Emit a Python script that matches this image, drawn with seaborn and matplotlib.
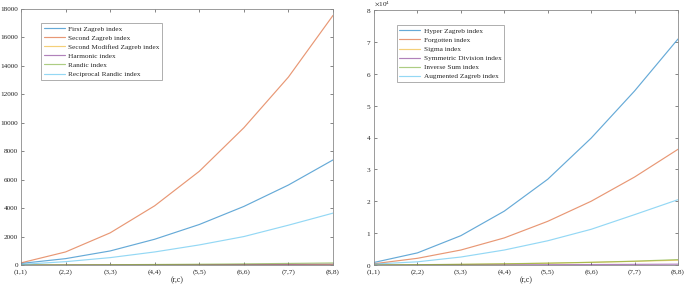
import numpy as np
import pandas as pd
import matplotlib
matplotlib.use("Agg")
import matplotlib.pyplot as plt
from matplotlib.ticker import ScalarFormatter
import seaborn as sns

categories = ["(1,1)", "(2,2)", "(3,3)", "(4,4)", "(5,5)", "(6,6)", "(7,7)", "(8,8)"]

left_names = ["First Zagreb index", "Second Zagreb index", "Second Modified Zagreb index",
              "Harmonic index", "Randic index", "Reciprocal Randic index"]
first_zagreb = [110, 447, 988, 1812, 2847, 4118, 5624, 7388]
second_zagreb = [150, 918, 2259, 4165, 6588, 9650, 13214, 17548]
second_mod_zagreb = [0.5, 2, 4.5, 8, 12.5, 18, 24.5, 32]
harmonic = [1, 3.5, 8, 14, 22, 32, 43, 56]
randic = [3, 10, 21, 36, 56, 80, 110, 145]
reciprocal_randic = [40, 235, 518, 918, 1412, 2000, 2800, 3647]

right_names = ["Hyper Zagreb index", "Forgotten index", "Sigma index",
               "Symmetric Division index", "Inverse Sum index", "Augmented Zagreb index"]
hyper_zagreb = [800, 3800, 9200, 16900, 26900, 39800, 54600, 70900]
forgotten = [400, 2100, 4700, 8500, 13700, 20000, 27600, 36300]
sigma = [0, 60, 180, 340, 560, 830, 1150, 1500]
symmetric_division = [4, 16, 36, 64, 100, 144, 196, 256]
inverse_sum = [20, 100, 220, 380, 580, 850, 1200, 1700]
augmented_zagreb = [300, 1000, 2500, 4700, 7600, 11200, 15800, 20500]

palette = ["#0072BD", "#D95319", "#EDB120", "#7E2F8E", "#77AC30", "#4DBEEE"]

def long_df(names, series):
    rows = []
    for n, s in zip(names, series):
        for i, v in enumerate(s):
            rows.append({"x": i, "y": v, "series": n})
    return pd.DataFrame(rows)

dfl = long_df(left_names, [first_zagreb, second_zagreb, second_mod_zagreb, harmonic, randic, reciprocal_randic])
dfr = long_df(right_names, [hyper_zagreb, forgotten, sigma, symmetric_division, inverse_sum, augmented_zagreb])

sns.set_theme(style="white")
plt.rcParams['font.family'] = ['Liberation Serif', 'DejaVu Serif']
plt.rcParams['mathtext.fontset'] = 'stix'

fig = plt.figure(figsize=(6.85, 2.88), dpi=100)
axl = fig.add_axes([21/685, 23/288, 312/685, 256/288])
axr = fig.add_axes([374/685, 23/288, 304/685, 255/288])

fs = 5.2
for ax, df, names, ylim in [(axl, dfl, left_names, (0, 18000)), (axr, dfr, right_names, (0, 80000))]:
    sns.lineplot(data=df, x="x", y="y", hue="series", hue_order=names, palette=palette,
                 ax=ax, linewidth=0.85, alpha=0.6, estimator=None)
    ax.set_xlim(0, 7)
    ax.set_ylim(*ylim)
    ax.set_xticks(range(len(categories)))
    ax.set_xticklabels(categories)
    ax.set_xlabel("(r,c)", fontsize=fs + 0.5, labelpad=1)
    ax.set_ylabel("")
    ax.tick_params(direction="in", length=2.5, width=0.5, labelsize=fs, pad=2,
                   top=True, right=True, bottom=True, left=True, color="#555555")
    ax.tick_params(axis="x", pad=3)
    for sp in ax.spines.values():
        sp.set_color("#8a8a8a")
        sp.set_linewidth(0.6)
    leg = ax.legend(loc="upper left", bbox_to_anchor=(0.065, 0.945) if ax is axl else (0.075, 0.94),
                    fontsize=fs, frameon=True, fancybox=False, edgecolor="#8a8a8a",
                    handlelength=2.9, labelspacing=0.42, borderpad=0.35, handletextpad=0.5,
                    borderaxespad=0)
    leg.get_frame().set_linewidth(0.6)
    for h in leg.get_lines():
        h.set_linewidth(0.85)

axl.set_yticks(np.arange(0, 18001, 2000))
axr.set_yticks(np.arange(0, 80001, 10000))
fmt = ScalarFormatter(useMathText=True)
fmt.set_powerlimits((0, 0))
axr.yaxis.set_major_formatter(fmt)
axr.yaxis.get_offset_text().set_fontsize(fs)

fig.savefig("out.png", dpi=100)
